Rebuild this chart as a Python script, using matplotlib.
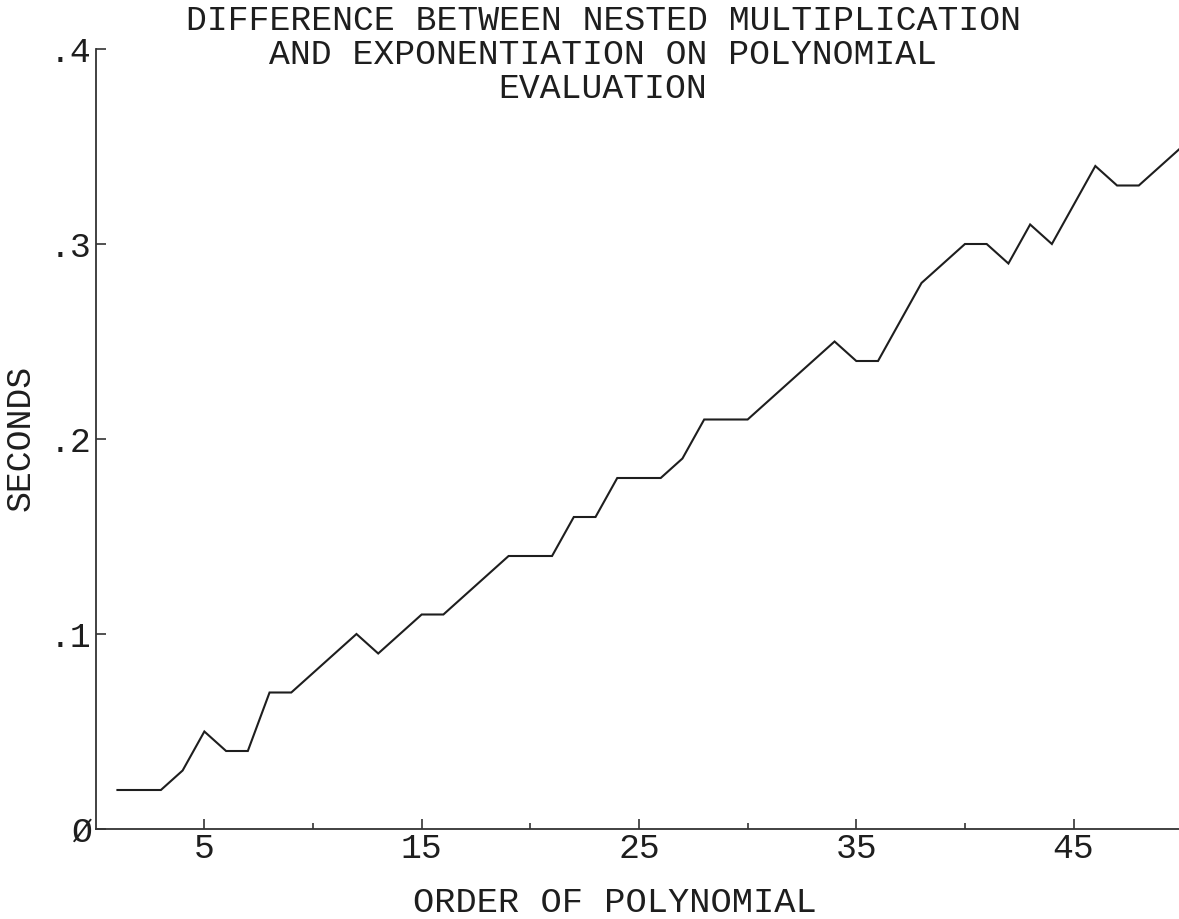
import numpy as np
import matplotlib
matplotlib.use('Agg')
import matplotlib.pyplot as plt

# order of polynomial vs. time difference (seconds)
order = list(range(1, 51))
seconds = [0.02, 0.02, 0.02, 0.03, 0.05, 0.04, 0.04, 0.07, 0.07, 0.08,
           0.09, 0.10, 0.09, 0.10, 0.11, 0.11, 0.12, 0.13, 0.14, 0.14,
           0.14, 0.16, 0.16, 0.18, 0.18, 0.18, 0.19, 0.21, 0.21, 0.21,
           0.22, 0.23, 0.24, 0.25, 0.24, 0.24, 0.26, 0.28, 0.29, 0.30,
           0.30, 0.29, 0.31, 0.30, 0.32, 0.34, 0.33, 0.33, 0.34, 0.35]

xticks_major = [5, 15, 25, 35, 45]
xticks_minor = [10, 20, 30, 40]
yticks = [0.0, 0.1, 0.2, 0.3, 0.4]
ytick_labels = ['\u00d8', '.1', '.2', '.3', '.4']

title_lines = ['DIFFERENCE BETWEEN NESTED MULTIPLICATION',
               'AND EXPONENTIATION ON POLYNOMIAL',
               'EVALUATION']

ink = '#1e1e1e'
font = 'Liberation Mono'
fs = 25

fig = plt.figure(figsize=(11.79, 9.19), dpi=100)
W, H = 1179.0, 919.0
x0, y0, ytop = 95.7, 829.0, 49.0
ax = fig.add_axes([x0 / W, (H - y0) / H, (W - x0) / W, (y0 - ytop) / H])

ax.plot(order, seconds, '-', color=ink, linewidth=1.5, solid_joinstyle='miter')

ax.set_xlim(0, 49.85)
ax.set_ylim(0, 0.4)

for side in ['top', 'right']:
    ax.spines[side].set_visible(False)
for side in ['left', 'bottom']:
    ax.spines[side].set_color('#333333')
    ax.spines[side].set_linewidth(1.3)

ax.set_xticks(xticks_major)
ax.set_xticklabels([str(v) for v in xticks_major])
ax.set_xticks(xticks_minor, minor=True)
ax.set_yticks(yticks)
ax.set_yticklabels(ytick_labels)

ax.tick_params(axis='both', which='major', direction='in', length=7,
               width=1.2, color='#333333', labelcolor=ink)
ax.tick_params(axis='x', which='minor', direction='in', length=4.5,
               width=1.2, color='#333333')
ax.tick_params(axis='x', which='major', pad=2)
ax.tick_params(axis='y', which='major', pad=3)
for lab in ax.get_xticklabels() + ax.get_yticklabels():
    lab.set_fontfamily(font)
    lab.set_fontsize(fs)

# title, centred a little left of the axes centre as in the plotter output
for i, line in enumerate(title_lines):
    fig.text(603 / W, 1 - (21 + 34 * i) / H, line, ha='center', va='center',
             family=font, fontsize=fs, color=ink)

fig.text(615 / W, 1 - 902 / H, 'ORDER OF POLYNOMIAL', ha='center', va='center',
         family=font, fontsize=25.5, color=ink)
fig.text(20 / W, 1 - 438 / H, 'SECONDS', ha='center', va='center',
         rotation=90, family=font, fontsize=fs, color=ink)

fig.savefig('out.png', dpi=100)
